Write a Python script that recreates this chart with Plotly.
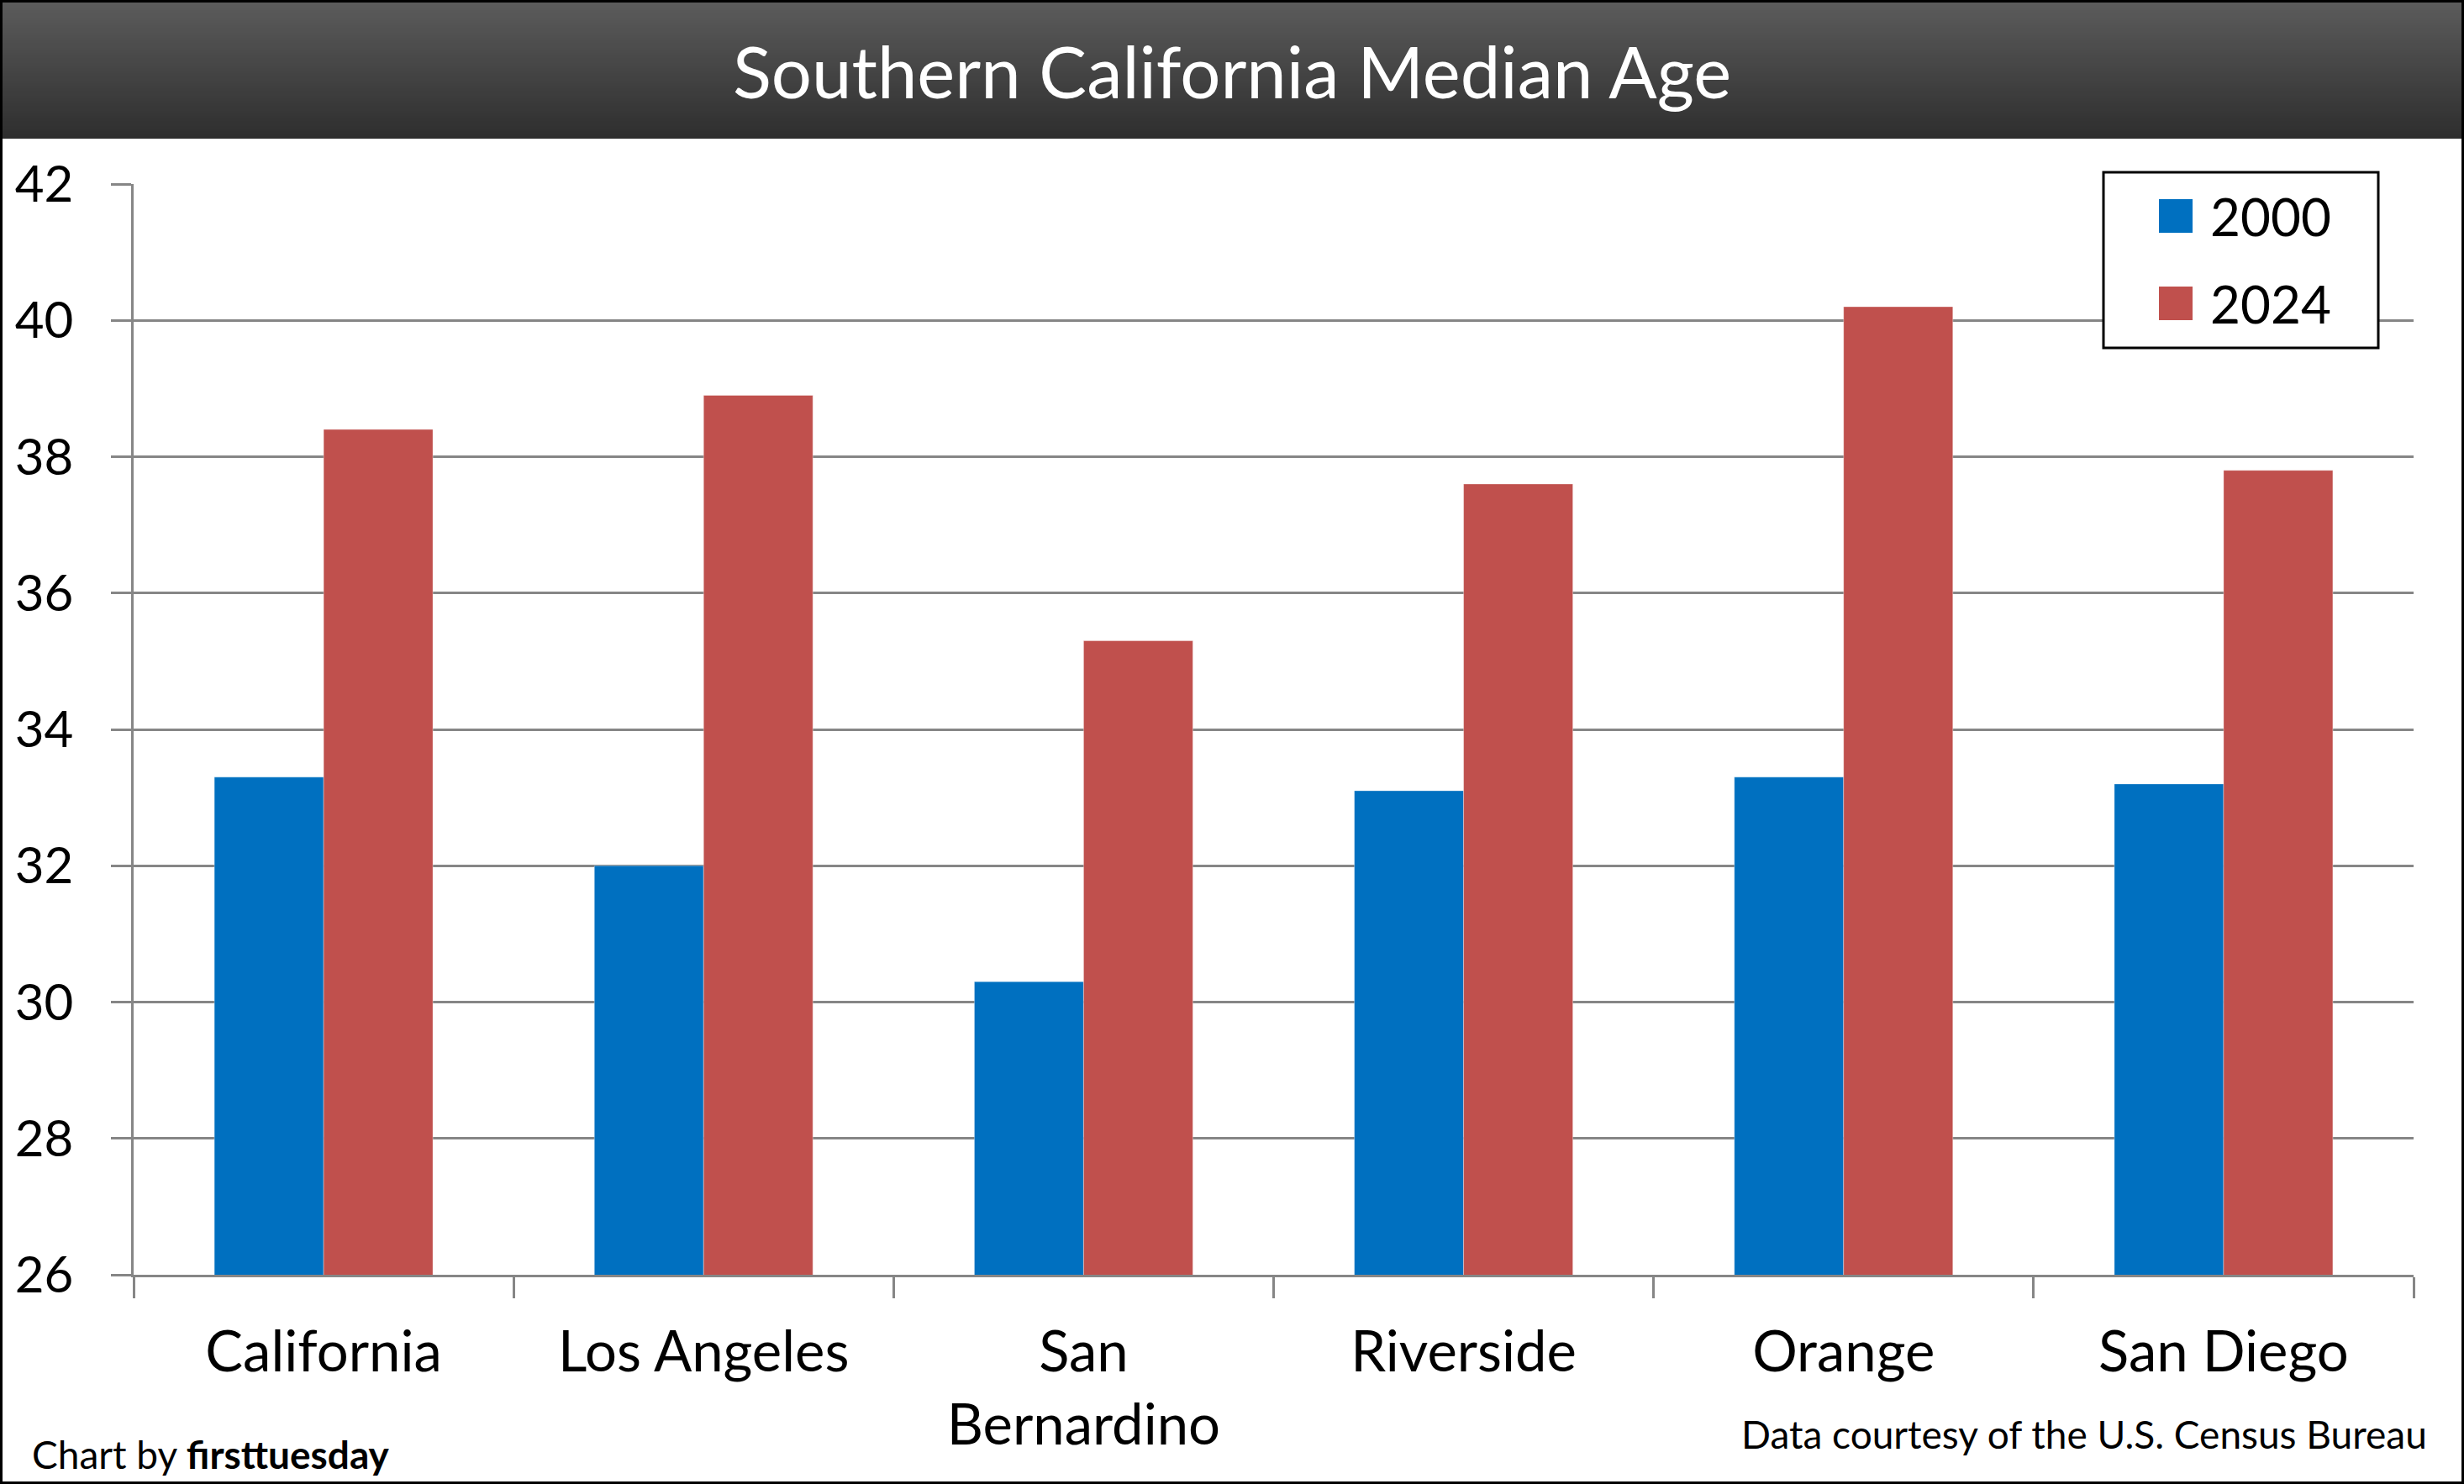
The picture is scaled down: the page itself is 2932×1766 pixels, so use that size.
import plotly.graph_objects as go

# ---- data ----
regions = ["California", "Los Angeles", "San Bernardino", "Riverside", "Orange", "San Diego"]
region_labels = ["California", "Los Angeles", "San<br>Bernardino", "Riverside", "Orange", "San Diego"]
series_names = ["2000", "2024"]
age_2000 = [33.3, 32.0, 30.3, 33.1, 33.3, 33.2]
age_2024 = [38.4, 38.9, 35.3, 37.6, 40.2, 37.8]
y_ticks = [26, 28, 30, 32, 34, 36, 38, 40, 42]
title_text = "Southern California Median Age"
credit_left = "Chart by <b>firsttuesday</b>"
credit_right = "Data courtesy of the U.S. Census Bureau"

colors = ["#0070C0", "#C0504D"]
FONT = "Lato"

W, H = 2932, 1766
L, R, T, B = 159, 60, 219, 249
PW, PH = W - L - R, H - T - B


def px(x):
    return (x - L) / PW


def py(y):
    return (H - B - y) / PH


fig = go.Figure()
for name, vals, col in zip(series_names, [age_2000, age_2024], colors):
    fig.add_trace(go.Bar(
        x=regions, y=vals, name=name,
        marker=dict(color=col, line=dict(color="rgba(255,255,255,0.35)", width=1)),
        showlegend=False,
    ))

shapes = []
# title band gradient (slightly overlapping strips to avoid seams)
N = 55
top_c, bot_c = 0x5c, 0x2e
band_h = 165
for i in range(N):
    f = (i + 0.5) / N
    c = int(round(top_c + (bot_c - top_c) * f))
    y_top = band_h * i / N
    y_bot = min(band_h, band_h * (i + 1) / N + 2)
    shapes.append(dict(type="rect", xref="paper", yref="paper",
                       x0=px(0), x1=px(W),
                       y0=py(y_bot), y1=py(y_top),
                       fillcolor=f"rgb({c},{c},{c})", line=dict(width=0), layer="above"))

# legend box (manual, to get large swatches)
shapes.append(dict(type="rect", xref="paper", yref="paper",
                   x0=px(2503), x1=px(2830), y0=py(414), y1=py(205),
                   fillcolor="white", line=dict(color="black", width=3), layer="above"))
annotations = []
for i, (name, col) in enumerate(zip(series_names, colors)):
    cy = 257 + i * 104
    shapes.append(dict(type="rect", xref="paper", yref="paper",
                       x0=px(2569), x1=px(2609), y0=py(cy + 20), y1=py(cy - 20),
                       fillcolor=col, line=dict(width=0), layer="above"))
    annotations.append(dict(text=name, xref="paper", yref="paper",
                            x=px(2628), y=py(cy), xanchor="left", yanchor="middle",
                            showarrow=False, font=dict(family=FONT, size=62, color="black")))

# outer border
shapes.append(dict(type="rect", xref="paper", yref="paper",
                   x0=px(0), x1=px(W), y0=py(H), y1=py(0),
                   fillcolor="rgba(0,0,0,0)", line=dict(color="black", width=6), layer="above"))

annotations.append(dict(text=title_text, xref="paper", yref="paper",
                        x=px(W / 2), y=py(84), xanchor="center", yanchor="middle",
                        showarrow=False, font=dict(family=FONT, size=85, color="white")))
annotations.append(dict(text=credit_left, xref="paper", yref="paper",
                        x=px(36), y=py(1731), xanchor="left", yanchor="middle",
                        showarrow=False, font=dict(family=FONT, size=46, color="black")))
annotations.append(dict(text=credit_right, xref="paper", yref="paper",
                        x=px(2890), y=py(1707), xanchor="right", yanchor="middle",
                        showarrow=False, font=dict(family=FONT, size=46, color="black")))

GRID = "#868686"
fig.update_layout(
    width=W, height=H,
    margin=dict(l=L, r=R, t=T, b=B, autoexpand=False),
    paper_bgcolor="white", plot_bgcolor="white",
    barmode="group", bargap=0.425, bargroupgap=0,
    font=dict(family=FONT, color="black"),
    shapes=shapes, annotations=annotations,
    showlegend=False,
    xaxis=dict(
        tickmode="array", tickvals=regions, ticktext=region_labels,
        tickson="boundaries", ticks="outside", ticklen=25, tickwidth=2.5, tickcolor=GRID,
        showline=True, linecolor=GRID, linewidth=2.5,
        showgrid=False, tickfont=dict(family=FONT, size=67, color="black"),
        ticklabelstandoff=32,
    ),
    yaxis=dict(
        range=[26, 42], tickmode="array", tickvals=y_ticks,
        ticks="outside", ticklen=24, tickwidth=2.5, tickcolor=GRID,
        showline=True, linecolor=GRID, linewidth=2.5,
        showgrid=True, gridcolor=GRID, gridwidth=2.5, zeroline=False,
        tickfont=dict(family=FONT, size=60, color="black"),
        ticklabelstandoff=33,
    ),
)

fig.write_html("out.html",
               config={"displayModeBar": False},
               post_script="document.body.style.margin='0';document.body.style.overflow='hidden';")
